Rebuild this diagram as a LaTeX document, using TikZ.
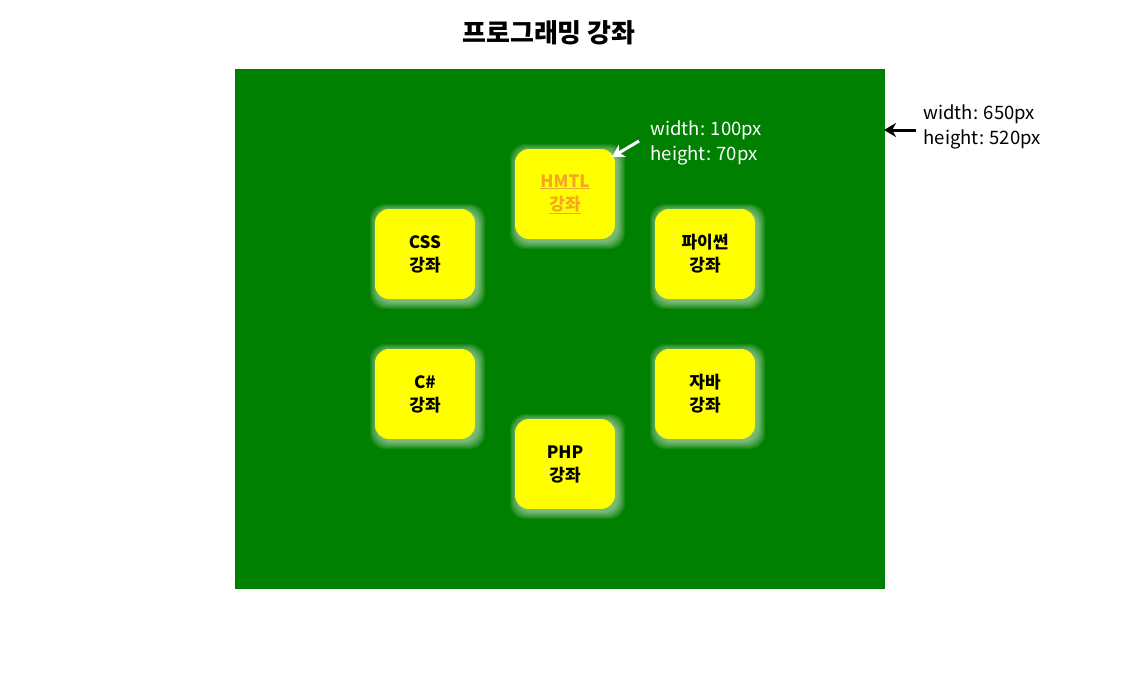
\documentclass[tikz,border=0pt]{standalone}
\usepackage{fontspec}
\setmainfont{Noto Sans CJK KR}
\usepackage{xcolor}
\usetikzlibrary{positioning,calc,arrows.meta}
\definecolor{boardgreen}{HTML}{008000}
\definecolor{boxyellow}{HTML}{FFFF00}
\definecolor{linkorange}{HTML}{F5A623}
\tikzset{
  lecture/.style={fill=boxyellow, rounded corners=14, minimum width=100, minimum height=90,
    align=center, font=\fontsize{17}{23}\selectfont\bfseries},
  note/.style={align=left, anchor=north west, font=\fontsize{18.5}{25}\selectfont},
}
\begin{document}
\begin{tikzpicture}[x=1pt,y=-1pt]
    \useasboundingbox (0,0) rectangle (1126,685);

    % Title
    \node [font=\fontsize{26}{30}\selectfont\bfseries] (title) at (549,33) {프로그래밍 강좌};

    % Board
    \fill [boardgreen] (235,69) rectangle (885,589);

    % Glow behind the boxes
    \foreach \cx/\cy in {565/194, 425/254, 705/254, 425/394, 705/394, 565/464}
      \foreach \g in {1,...,8}
        \fill [white, opacity=0.08, rounded corners=15]
          (\cx-50-\g+3, \cy-45-\g+3) rectangle (\cx+50+\g+2, \cy+45+\g+2);

    % Lectures
    \node [lecture, text=linkorange] (html) at (565,194) {\underline{HMTL}\\\underline{강좌}};
    \node [lecture] (css) at (425,254) {CSS\\강좌};
    \node [lecture] (python) at (705,254) {파이썬\\강좌};
    \node [lecture] (csharp) at (425,394) {C\#\\강좌};
    \node [lecture] (java) at (705,394) {자바\\강좌};
    \node [lecture] (php) at (565,464) {PHP\\강좌};

    % Box size note
    \node [note, text=white] (boxnote) at (647,117) {width: 100px\\height: 70px};
    \coordinate (boxfrom) at (639,141);
    \coordinate (boxto) at (612,157);
    \draw [-{Stealth[length=12,width=14]}, line width=3, white] (boxfrom) -- (boxto);

    % Board size note
    \node [note] (boardnote) at (920,101) {width: 650px\\height: 520px};
    \coordinate (boardfrom) at (916,130);
    \coordinate (boardto) at (884,130);
    \draw [-{Stealth[length=12,width=14]}, line width=3] (boardfrom) -- (boardto);
\end{tikzpicture}
\end{document}
